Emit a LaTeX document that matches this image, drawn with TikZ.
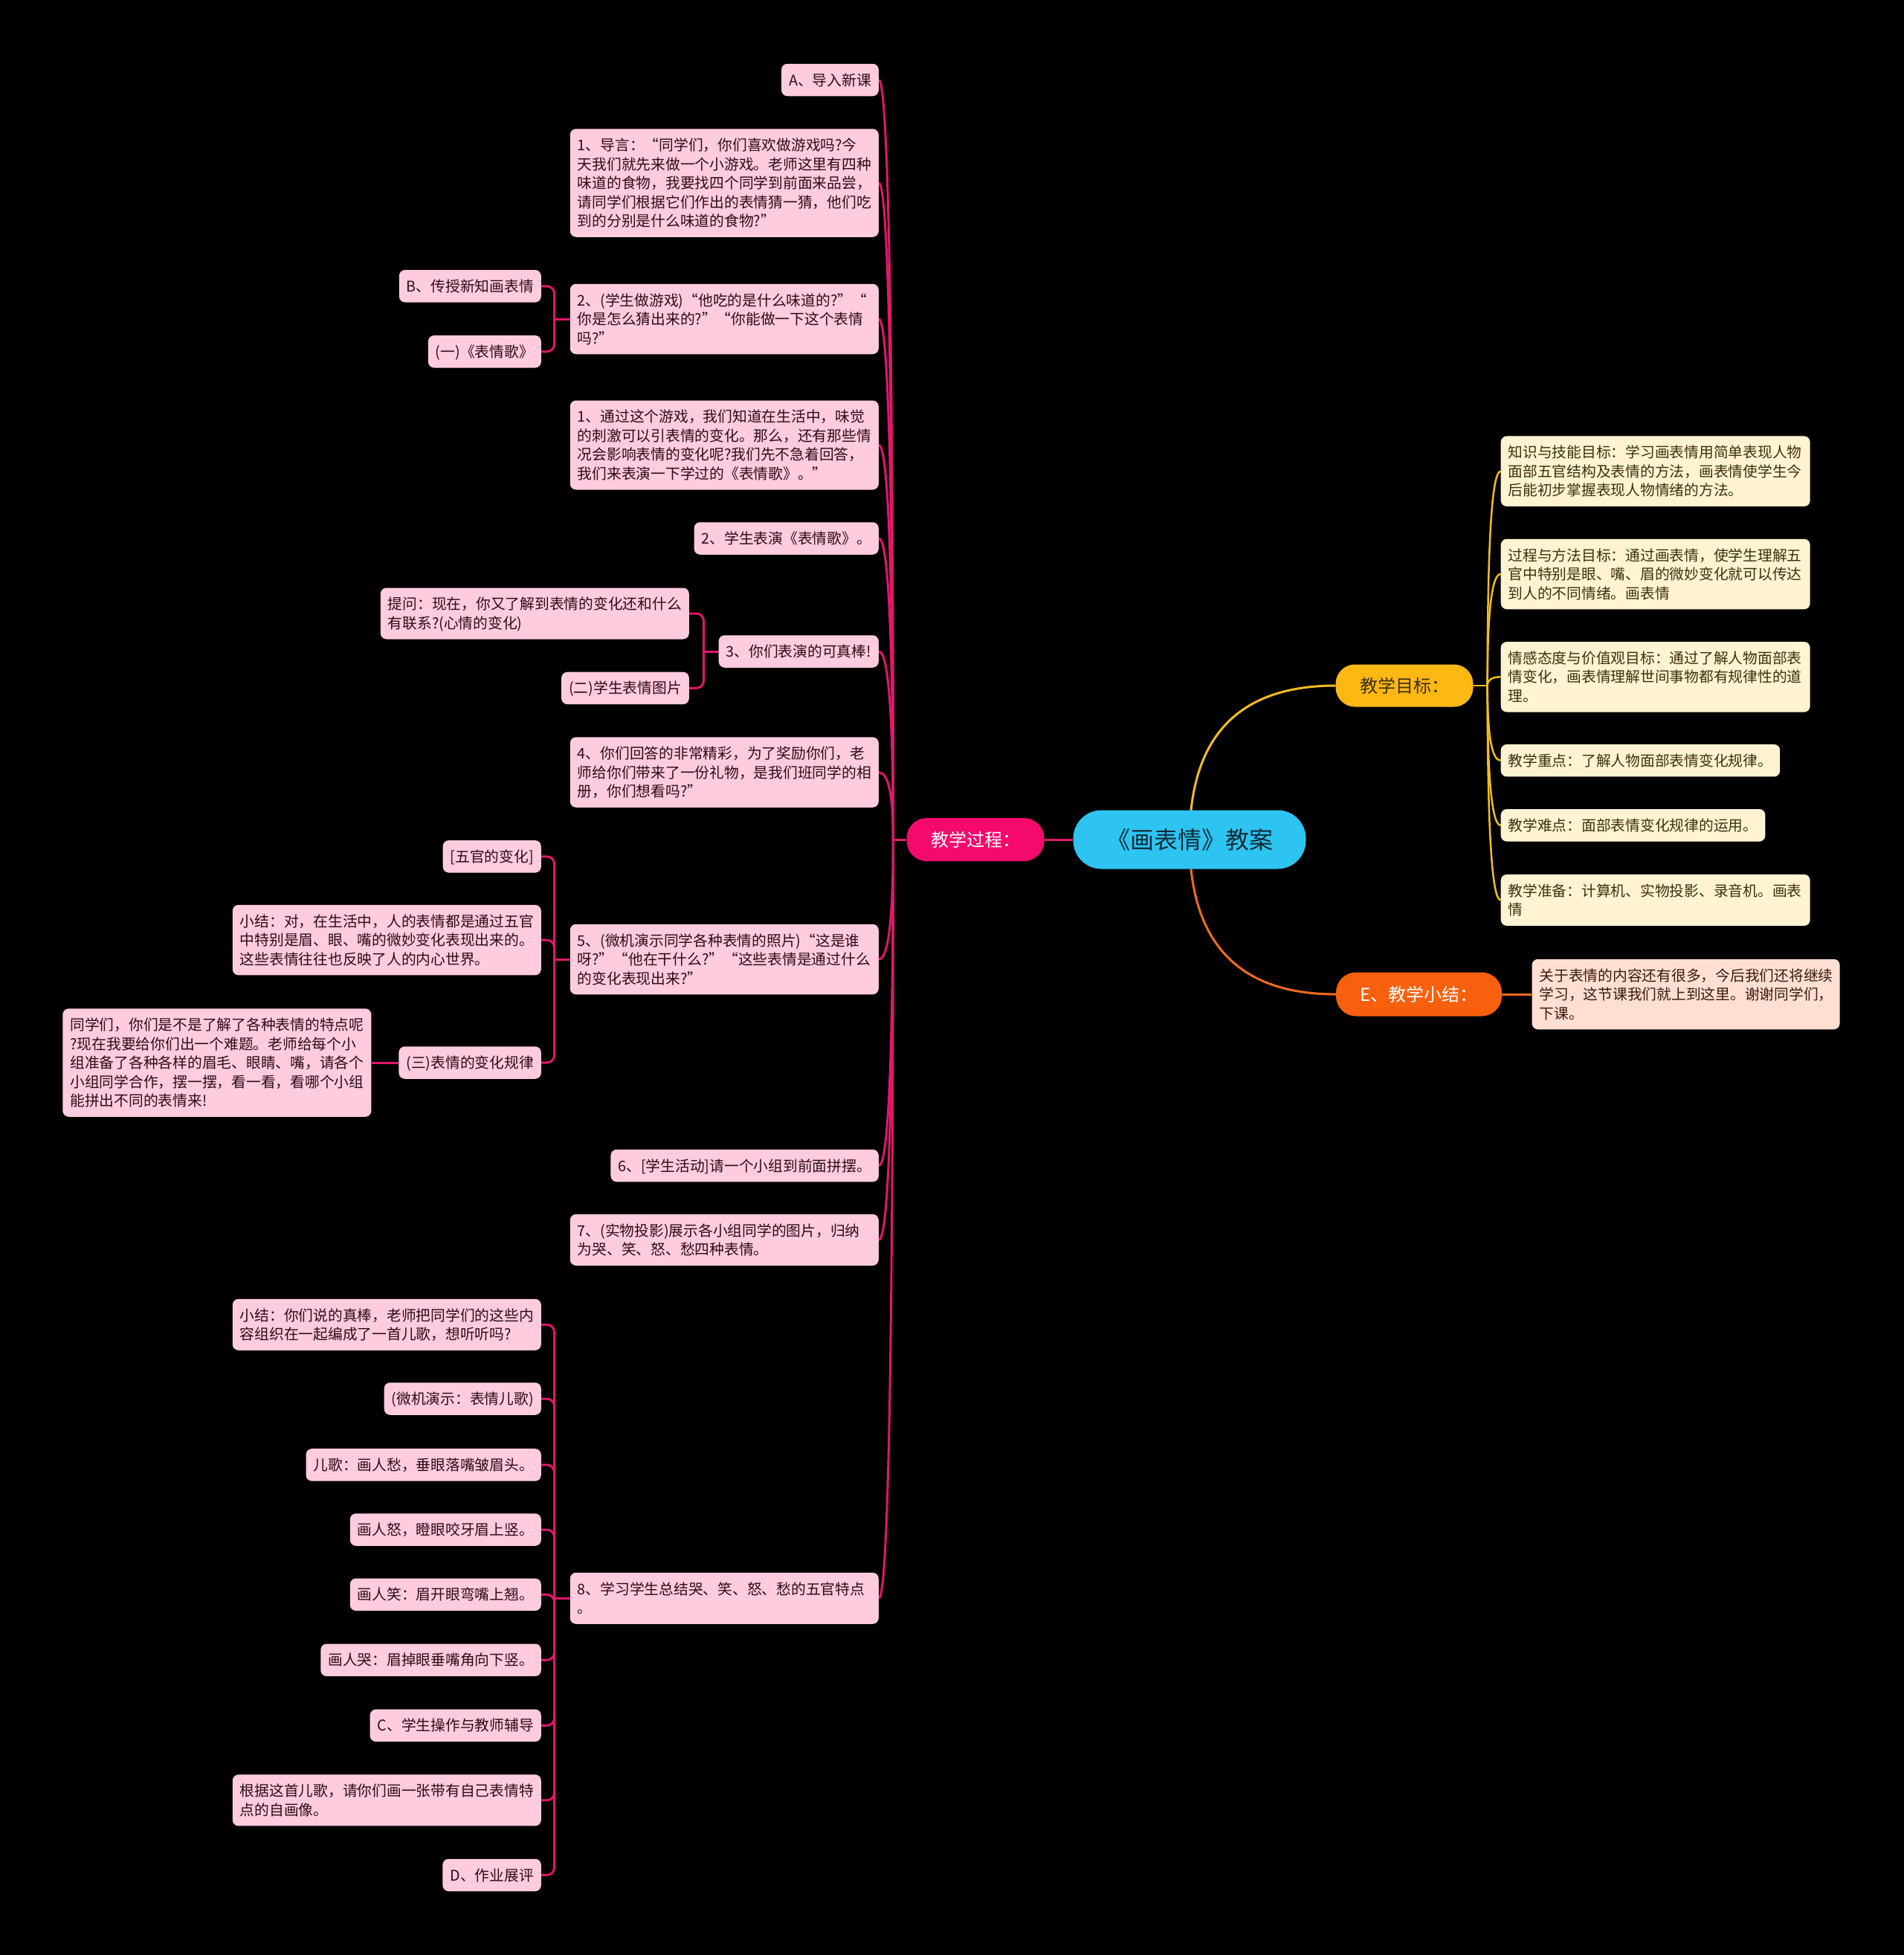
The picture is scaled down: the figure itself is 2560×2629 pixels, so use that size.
\documentclass[tikz,border=0pt]{standalone}
\usepackage{fontspec}
\setmainfont{Noto Sans CJK SC}
\usetikzlibrary{calc}
\pgfdeclarelayer{back}
\pgfdeclarelayer{lines}
\pgfsetlayers{back,lines,main}
\definecolor{pinkfill}{HTML}{FFCBDF}
\definecolor{pinktext}{HTML}{2D0C18}
\definecolor{pinkline}{HTML}{E0176A}
\definecolor{tpfill}{HTML}{F50A6C}
\definecolor{cyanfill}{HTML}{2DC4F2}
\definecolor{roottext}{HTML}{0F2A35}
\definecolor{goldfill}{HTML}{FDB814}
\definecolor{goldtext}{HTML}{3E300E}
\definecolor{goldline}{HTML}{F2BE1E}
\definecolor{creamfill}{HTML}{FFF3D3}
\definecolor{creamtext}{HTML}{3A3010}
\definecolor{orangefill}{HTML}{F9600D}
\definecolor{orangeline}{HTML}{F26A1F}
\definecolor{peachfill}{HTML}{FFDFD3}
\definecolor{peachtext}{HTML}{3A1A10}
\newcommand\qcurve[3]{\draw[#1] (#2) .. controls ($(#2)!0.6667!(#2 |- #3)$) and ($(#3)!0.6667!(#2 |- #3)$) .. (#3);}
\newcommand\mystrut{\rule[-5.25pt]{0pt}{25.5pt}}
\tikzset{
  base/.style={font=\fontsize{19.75pt}{25.5pt}\selectfont, inner xsep=10pt, inner ysep=9pt, rounded corners=8pt, align=left, execute at begin node=\mystrut, execute at end node=\mystrut},
  pk/.style={base, fill=pinkfill, text=pinktext},
  pkw/.style={pk, text width=395pt},
  cr/.style={base, fill=creamfill, text=creamtext},
  crw/.style={cr, text width=396pt},
  pc/.style={base, fill=peachfill, text=peachtext, text width=394pt},
  pill/.style={inner sep=0pt, align=center},
  pl/.style={draw=pinkline, line width=3pt},
  yl/.style={draw=goldline, line width=2.5pt},
  ol/.style={draw=orangeline, line width=3pt},
}
\begin{document}
\begin{tikzpicture}[x=1pt, y=-1pt]
\useasboundingbox (0,0) rectangle (2560,2629);
\begin{pgfonlayer}{back}
  \fill[black] (-20,-20) rectangle (2580,2650);
\end{pgfonlayer}

% central nodes
\node[pill, fill=cyanfill, text=roottext, minimum width=313pt, minimum height=79pt, rounded corners=38pt, font=\fontsize{32pt}{36pt}\selectfont] (root) at (1600,1129) {《画表情》教案};
\node[pill, fill=tpfill, text=white, minimum width=185pt, minimum height=58pt, rounded corners=27pt, font=\fontsize{24pt}{28pt}\selectfont] (tp) at (1312,1129) {教学过程：};
\node[pill, fill=goldfill, text=goldtext, minimum width=185pt, minimum height=57pt, rounded corners=26pt, font=\fontsize{24pt}{28pt}\selectfont] (goal) at (1889,922) {教学目标：};
\node[pill, fill=orangefill, text=white, minimum width=223pt, minimum height=59pt, rounded corners=27pt, font=\fontsize{24pt}{28pt}\selectfont] (E) at (1908.5,1337) {E、教学小结：};

% left main children
\node[pk, anchor=east] (n1) at (1182,107.5) {A、导入新课};
\node[pkw, anchor=east] (n2) at (1182,246) {1、导言：“同学们，你们喜欢做游戏吗?今\\天我们就先来做一个小游戏。老师这里有四种\\味道的食物，我要找四个同学到前面来品尝，\\请同学们根据它们作出的表情猜一猜，他们吃\\到的分别是什么味道的食物?”};
\node[pkw, anchor=east] (n3) at (1182,429) {2、(学生做游戏)“他吃的是什么味道的?”“\\你是怎么猜出来的?”“你能做一下这个表情\\吗?”};
\node[pkw, anchor=east] (n4) at (1182,598.5) {1、通过这个游戏，我们知道在生活中，味觉\\的刺激可以引表情的变化。那么，还有那些情\\况会影响表情的变化呢?我们先不急着回答，\\我们来表演一下学过的《表情歌》。”};
\node[pk, anchor=east] (n5) at (1182,724) {2、学生表演《表情歌》。};
\node[pk, anchor=east] (n6) at (1182,876) {3、你们表演的可真棒!};
\node[pkw, anchor=east] (n7) at (1182,1038.5) {4、你们回答的非常精彩，为了奖励你们，老\\师给你们带来了一份礼物，是我们班同学的相\\册，你们想看吗?”};
\node[pkw, anchor=east] (n8) at (1182,1290) {5、(微机演示同学各种表情的照片)“这是谁\\呀?”“他在干什么?”“这些表情是通过什么\\的变化表现出来?”};
\node[pk, anchor=east] (n9) at (1182,1567.5) {6、[学生活动]请一个小组到前面拼摆。};
\node[pkw, anchor=east] (n10) at (1182,1667.3) {7、(实物投影)展示各小组同学的图片，归纳\\为哭、笑、怒、愁四种表情。};
\node[pkw, anchor=east] (n11) at (1182,2149.3) {8、学习学生总结哭、笑、怒、愁的五官特点\\。};

% sub children
\node[pk, anchor=east] (n3a) at (728,384.8) {B、传授新知画表情};
\node[pk, anchor=east] (n3b) at (728,472.8) {(一)《表情歌》};
\node[pkw, anchor=east] (n6a) at (927,825) {提问：现在，你又了解到表情的变化还和什么\\有联系?(心情的变化)};
\node[pk, anchor=east] (n6b) at (927,925.4) {(二)学生表情图片};
\node[pk, anchor=east] (n8a) at (728,1151.8) {[五官的变化]};
\node[pkw, anchor=east] (n8b) at (728,1264.1) {小结：对，在生活中，人的表情都是通过五官\\中特别是眉、眼、嘴的微妙变化表现出来的。\\这些表情往往也反映了人的内心世界。};
\node[pk, anchor=east] (n8c) at (728,1429) {(三)表情的变化规律};
\node[pkw, anchor=east] (n8c1) at (499.6,1429) {同学们，你们是不是了解了各种表情的特点呢\\?现在我要给你们出一个难题。老师给每个小\\组准备了各种各样的眉毛、眼睛、嘴，请各个\\小组同学合作，摆一摆，看一看，看哪个小组\\能拼出不同的表情来!};
\node[pkw, anchor=east] (c1) at (728,1781.3) {小结：你们说的真棒，老师把同学们的这些内\\容组织在一起编成了一首儿歌，想听听吗?};
\node[pk, anchor=east] (c2) at (728,1881) {(微机演示：表情儿歌)};
\node[pk, anchor=east] (c3) at (728,1969.9) {儿歌：画人愁，垂眼落嘴皱眉头。};
\node[pk, anchor=east] (c4) at (728,2057) {画人怒，瞪眼咬牙眉上竖。};
\node[pk, anchor=east] (c5) at (728,2144.3) {画人笑：眉开眼弯嘴上翘。};
\node[pk, anchor=east] (c6) at (728,2232.3) {画人哭：眉掉眼垂嘴角向下竖。};
\node[pk, anchor=east] (c7) at (728,2320.3) {C、学生操作与教师辅导};
\node[pkw, anchor=east] (c8) at (728,2420.9) {根据这首儿歌，请你们画一张带有自己表情特\\点的自画像。};
\node[pk, anchor=east] (c9) at (728,2521.5) {D、作业展评};

% right side
\node[crw, anchor=west] (g1) at (2018.5,633.7) {知识与技能目标：学习画表情用简单表现人物\\面部五官结构及表情的方法，画表情使学生今\\后能初步掌握表现人物情绪的方法。};
\node[crw, anchor=west] (g2) at (2018.5,772) {过程与方法目标：通过画表情，使学生理解五\\官中特别是眼、嘴、眉的微妙变化就可以传达\\到人的不同情绪。画表情};
\node[crw, anchor=west] (g3) at (2018.5,910.3) {情感态度与价值观目标：通过了解人物面部表\\情变化，画表情理解世间事物都有规律性的道\\理。};
\node[cr, anchor=west] (g4) at (2018.5,1022.7) {教学重点：了解人物面部表情变化规律。};
\node[cr, anchor=west] (g5) at (2018.5,1109.8) {教学难点：面部表情变化规律的运用。};
\node[crw, anchor=west] (g6) at (2018.5,1210.4) {教学准备：计算机、实物投影、录音机。画表\\情};
\node[pc, anchor=west] (Ec) at (2060.4,1337) {关于表情的内容还有很多，今后我们还将继续\\学习，这节课我们就上到这里。谢谢同学们，\\下课。};

\begin{pgfonlayer}{lines}
  % root links
  \draw[pl] (root.west) -- (tp.east);
  \qcurve{yl, line width=3pt}{root.center}{goal.west}
  \qcurve{ol}{root.center}{E.west}
  % teaching process branch
  \coordinate (hubL) at ([xshift=-18pt]tp.west);
  \draw[pl] (tp.west) -- (hubL);
  \foreach \n in {n1,n2,n3,n4,n5,n6,n7,n8,n9,n10,n11} {\qcurve{pl}{hubL}{\n.east}}
  % elbows
  \coordinate (b3) at ([xshift=-21pt]n3.west);
  \draw[pl] (n3.west) -- (b3);
  \foreach \c in {n3a,n3b} {\draw[pl, rounded corners=10pt] (b3) |- (\c.east);}
  \coordinate (b6) at ([xshift=-20pt]n6.west);
  \draw[pl] (n6.west) -- (b6);
  \foreach \c in {n6a,n6b} {\draw[pl, rounded corners=10pt] (b6) |- (\c.east);}
  \coordinate (b8) at ([xshift=-21pt]n8.west);
  \draw[pl] (n8.west) -- (b8);
  \foreach \c in {n8a,n8b,n8c} {\draw[pl, rounded corners=10pt] (b8) |- (\c.east);}
  \draw[pl] (n8c.west) -- (n8c1.east);
  \coordinate (b11) at ([xshift=-21pt]n11.west);
  \draw[pl] (n11.west) -- (b11);
  \foreach \c in {c1,c2,c3,c4,c5,c6,c7,c8,c9} {\draw[pl, rounded corners=10pt] (b11) |- (\c.east);}
  % goals
  \coordinate (hubR) at ([xshift=19pt]goal.east);
  \draw[yl] (goal.east) -- (hubR);
  \foreach \g in {g1,g2,g3,g4,g5,g6} {\qcurve{yl}{hubR}{\g.west}}
  % summary
  \draw[ol] (E.east) -- (Ec.west);
\end{pgfonlayer}
\end{tikzpicture}
\end{document}
